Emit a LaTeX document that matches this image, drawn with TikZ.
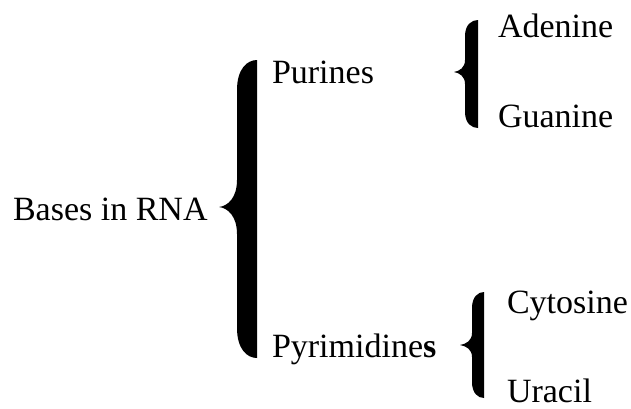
\documentclass[tikz,border=0pt]{standalone}
\usepackage{fontspec}
\setmainfont{Liberation Serif}
% filled curly brace: left x, right x, tip x, top y, middle y, bottom y, end radius, tip half-height
\newcommand\drawcurly[8]{%
  \fill ({#2},{#4}) -- ({#2},{#6})
    .. controls ({(#1+#2)/2},{#6}) and ({#1},{#6-0.3*#7}) .. ({#1},{#6-#7})
    -- ({#1},{#5+#8})
    .. controls ({#1},{#5+0.35*#8}) and ({(#1+#3)/2},{#5+1}) .. ({#3},{#5})
    .. controls ({(#1+#3)/2},{#5-1}) and ({#1},{#5-0.35*#8}) .. ({#1},{#5-#8})
    -- ({#1},{#4+#7})
    .. controls ({#1},{#4+0.3*#7}) and ({(#1+#2)/2},{#4}) .. cycle;}
\begin{document}
\begin{tikzpicture}[x=1pt,y=-1pt,
  label/.style={anchor=base west,inner sep=0pt,outer sep=0pt,
    font=\fontsize{34pt}{40pt}\selectfont}]
\useasboundingbox (0,0) rectangle (631,408);
% labels
\node[label] (bases) at (13,220) {Bases in RNA};
\node[label] (purines) at (272,83) {Purines};
\node[label] (pyrimidines) at (272,357) {Pyrimidine\textbf{s}};
\node[label] (adenine) at (498,37) {Adenine};
\node[label] (guanine) at (498,127) {Guanine};
\node[label] (cytosine) at (507,313) {Cytosine};
\node[label] (uracil) at (507,402) {Uracil};
% braces
\drawcurly{237}{257}{219}{60}{207}{358}{30}{27}
\drawcurly{465}{478}{454}{20}{72}{128}{16}{12}
\drawcurly{472}{484}{460}{292}{345}{398}{16}{12}
\end{tikzpicture}
\end{document}
